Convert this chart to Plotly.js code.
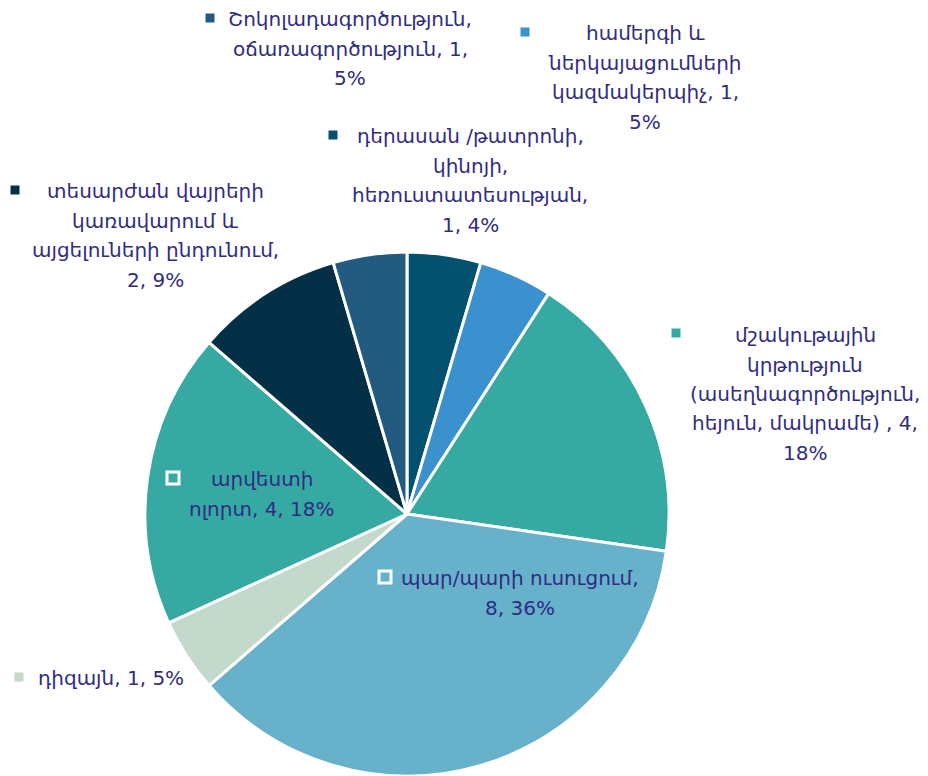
<!DOCTYPE html>
<html>
<head>
<meta charset="utf-8">
<script src="https://cdn.plot.ly/plotly-3.0.1.min.js"></script>
<style>html,body{margin:0;padding:0;background:#fff;}#chart{width:928px;height:776px;}</style>
</head>
<body>
<div id="chart"></div>
<script>
// ---- data ----
var labels = [
  "դերասան /թատրոնի, կինոյի, հեռուստատեսության",
  "համերգի և ներկայացումների կազմակերպիչ",
  "մշակութային կրթություն (ասեղնագործություն, հեյուն, մակրամե) ",
  "պար/պարի ուսուցում",
  "դիզայն",
  "արվեստի ոլորտ",
  "տեսարժան վայրերի կառավարում և այցելուների ընդունում",
  "Շոկոլադագործություն, օճառագործություն"
];
var values = [1, 1, 4, 8, 1, 4, 2, 1];
var percents = ["4%", "5%", "18%", "36%", "5%", "18%", "9%", "5%"];
var colors = ["#04506F", "#3A91CE", "#36AAA2", "#67B1CB", "#C2D9CC", "#36AAA2", "#033047", "#225A80"];

// label line layout (presentation only)
var labelTemplates = [
  "դերասան /թատրոնի,<br>կինոյի,<br>հեռուստատեսության,<br>{v}, {p}",
  "համերգի և<br>ներկայացումների<br>կազմակերպիչ, {v},<br>{p}",
  "մշակութային<br>կրթություն<br>(ասեղնագործություն,<br>հեյուն, մակրամե) , {v},<br>{p}",
  "պար/պարի ուսուցում,<br>{v}, {p}",
  "դիզայն, {v}, {p}",
  "արվեստի<br>ոլորտ, {v}, {p}",
  "տեսարժան վայրերի<br>կառավարում և<br>այցելուների ընդունում,<br>{v}, {p}",
  "Շոկոլադագործություն,<br>օճառագործություն, {v},<br>{p}"
];
// label box positions in pixels: [textCenterX, firstLineCenterY, markerX, markerY, inside]
var labelPos = [
  [470, 136, 333, 135, false],
  [645, 33, 525, 32, false],
  [805, 335, 676, 333, false],
  [520, 578, 385, 577, true],
  [111, 678, 19, 677, false],
  [262, 479, 173, 478, true],
  [155, 191, 15, 190, false],
  [350, 19, 210, 18, false]
];

var W = 928, H = 776;
function px(x){ return x / W; }
function py(y){ return 1 - y / H; }

var fontFam = "DejaVu Sans, Noto Sans, sans-serif";
var textColor = "#302C82";
var fs = 20;
var lineH = 29.5;

var annotations = [], shapes = [];
for (var i = 0; i < labels.length; i++) {
  var t = labelTemplates[i].replace("{v}", values[i]).replace("{p}", percents[i]);
  var lines = t.split("<br>");
  var p = labelPos[i];
  for (var k = 0; k < lines.length; k++) {
    annotations.push({
      xref: "paper", yref: "paper",
      x: px(p[0]), y: py(p[1] + k * lineH),
      xanchor: "center", yanchor: "middle",
      text: lines[k], showarrow: false, align: "center",
      font: {family: fontFam, size: fs, color: textColor}
    });
  }
  var s = p[4] ? 6 : 4.5;
  shapes.push({
    type: "rect", xref: "paper", yref: "paper",
    x0: px(p[2] - s), x1: px(p[2] + s), y0: py(p[3] + s), y1: py(p[3] - s),
    fillcolor: colors[i],
    line: p[4] ? {color: "#ffffff", width: 3} : {width: 0}
  });
}

var trace = {
  type: "pie",
  labels: labels,
  values: values,
  sort: false,
  direction: "clockwise",
  rotation: 0,
  textinfo: "none",
  hoverinfo: "label+value+percent",
  marker: {colors: colors, line: {color: "#ffffff", width: 3}},
  domain: {x: [px(407 - 262), px(407 + 262)], y: [0, 524 / H]},
  showlegend: false
};

var layout = {
  width: W, height: H,
  margin: {l: 0, r: 0, t: 0, b: 0},
  paper_bgcolor: "#ffffff",
  showlegend: false,
  annotations: annotations,
  shapes: shapes
};

Plotly.newPlot("chart", [trace], layout, {displayModeBar: false, staticPlot: true});
</script>
</body>
</html>
